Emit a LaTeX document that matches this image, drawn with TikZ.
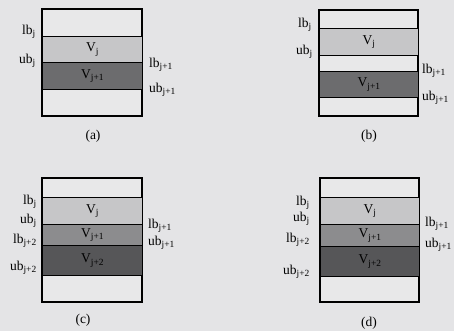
\documentclass[tikz,border=0pt]{standalone}
\usepackage{fontspec}
\setmainfont{Liberation Serif}
\usepackage{tikz}
\usetikzlibrary{positioning}

\definecolor{paper}{RGB}{228,228,230}
\definecolor{boxfill}{RGB}{232,232,233}
\definecolor{lightband}{RGB}{198,198,200}
\definecolor{midband}{RGB}{140,140,142}
\definecolor{darkband}{RGB}{108,108,110}

\begin{document}
\begin{tikzpicture}[
  x=1pt, y=-1pt,
  every node/.style={font=\fontsize{13.5}{15}\selectfont, inner sep=0pt},
  frame/.style={draw, line width=1.2pt, fill=boxfill},
  band/.style={draw, line width=1.2pt, minimum width=100pt, anchor=north west},
  leftlbl/.style={anchor=east},
  rightlbl/.style={anchor=west},
  caption/.style={anchor=center}
]
  \fill[paper] (0,0) rectangle (454,331);
  \useasboundingbox (0,0) rectangle (454,331);

  % (a) overlapping intervals
  \draw[frame] (42,9) rectangle (142,116);
  \node[band, fill=lightband, minimum height=26pt] (aVj) at (42,36) {V\textsubscript{j}};
  \node[band, fill=darkband, minimum height=27pt] (aVk) at (42,62) {V\textsubscript{j+1}};
  \node[leftlbl] (alb) at (36,32) {lb\textsubscript{j}};
  \node[leftlbl] (aub) at (36,61) {ub\textsubscript{j}};
  \node[rightlbl] (alb1) at (149,65) {lb\textsubscript{j+1}};
  \node[rightlbl] (aub1) at (149,90) {ub\textsubscript{j+1}};
  \node[caption] (capa) at (93,136) {(a)};

  % (b) separated intervals
  \draw[frame] (319,10) rectangle (418,116);
  \node[band, fill=lightband, minimum width=99pt, minimum height=27pt] (bVj) at (319,28) {V\textsubscript{j}};
  \node[band, fill=darkband, minimum width=99pt, minimum height=26pt] (bVk) at (319,71) {V\textsubscript{j+1}};
  \node[leftlbl] (blb) at (312,25) {lb\textsubscript{j}};
  \node[leftlbl] (bub) at (313,52) {ub\textsubscript{j}};
  \node[rightlbl] (blb1) at (422,71) {lb\textsubscript{j+1}};
  \node[rightlbl] (bub1) at (422,98) {ub\textsubscript{j+1}};
  \node[caption] (capb) at (369,136) {(b)};

  % (c) three intervals
  \draw[frame] (42,178) rectangle (142,302);
  \node[band, fill=lightband, minimum height=27pt] (cVj) at (42,197) {V\textsubscript{j}};
  \node[band, fill=midband, minimum height=21pt] (cVk) at (42,224) {V\textsubscript{j+1}};
  \node[band, fill=darkband!80!black, minimum height=30pt] (cVl) at (42,245) {V\textsubscript{j+2}};
  \node[leftlbl] (clb) at (37,202) {lb\textsubscript{j}};
  \node[leftlbl] (cub) at (37,221) {ub\textsubscript{j}};
  \node[leftlbl] (clb2) at (37,241) {lb\textsubscript{j+2}};
  \node[leftlbl] (cub2) at (37,268) {ub\textsubscript{j+2}};
  \node[rightlbl] (clb1) at (148,226) {lb\textsubscript{j+1}};
  \node[rightlbl] (cub1) at (148,243) {ub\textsubscript{j+1}};
  \node[caption] (capc) at (83,320) {(c)};

  % (d) three intervals, shifted bounds
  \draw[frame] (320,178) rectangle (419,302);
  \node[band, fill=lightband, minimum width=99pt, minimum height=27pt] (dVj) at (320,197) {V\textsubscript{j}};
  \node[band, fill=midband, minimum width=99pt, minimum height=22pt] (dVk) at (320,224) {V\textsubscript{j+1}};
  \node[band, fill=darkband!80!black, minimum width=99pt, minimum height=30pt] (dVl) at (320,246) {V\textsubscript{j+2}};
  \node[leftlbl] (dlb) at (310,203) {lb\textsubscript{j}};
  \node[leftlbl] (dub) at (310,219) {ub\textsubscript{j}};
  \node[leftlbl] (dlb2) at (310,240) {lb\textsubscript{j+2}};
  \node[leftlbl] (dub2) at (310,272) {ub\textsubscript{j+2}};
  \node[rightlbl] (dlb1) at (425,224) {lb\textsubscript{j+1}};
  \node[rightlbl] (dub1) at (425,245) {ub\textsubscript{j+1}};
  \node[caption] (capd) at (369,323) {(d)};
\end{tikzpicture}
\end{document}
